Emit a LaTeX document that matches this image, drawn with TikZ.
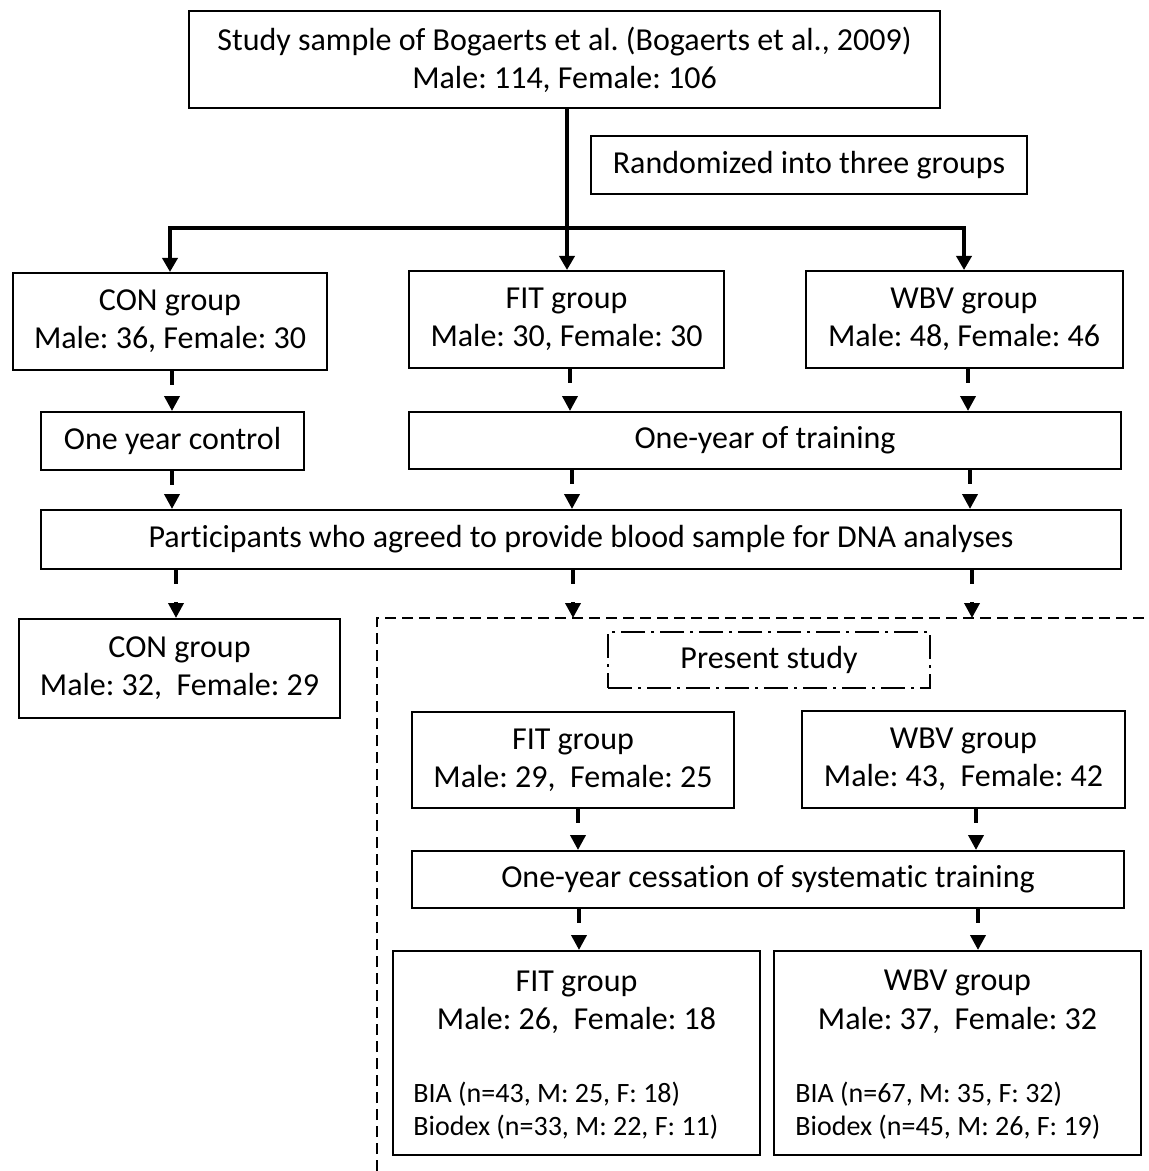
\documentclass[tikz,border=0pt]{standalone}
\usepackage{fontspec}
\setmainfont{Carlito}[Ligatures={NoCommon}]
\usetikzlibrary{arrows.meta}
\frenchspacing
\begin{document}
\begin{tikzpicture}[x=0.5pt,y=-0.5pt,
 box/.style={draw, line width=1pt, inner sep=0pt, align=center, font=\fontsize{16}{19}\selectfont},
 mainarrow/.style={line width=1.8pt, -{Triangle[length=7pt,width=7.5pt]}},
 mainline/.style={line width=1.8pt},
 darrow/.style={line width=1.8pt, dash pattern=on 7pt off 9pt, -{Triangle[length=7.5pt,width=7.5pt]}},
 dashedregion/.style={line width=1pt, dash pattern=on 5.5pt off 3pt},
 dashdotbox/.style={box, dash pattern=on 12pt off 3pt on 1.5pt off 3pt},
 txt/.style={inner sep=0pt, font=\fontsize{16}{19}\selectfont},
 smalltxt/.style={inner sep=0pt, font=\fontsize{14}{17}\selectfont}]
\fill[white] (0,0) rectangle (1148,1171);
\useasboundingbox (0,0) rectangle (1148,1171);

% boxes
\node[box, minimum width=375.5pt, minimum height=48.5pt] (top) at (564.5,59.5)
  {Study sample of Bogaerts et al. (Bogaerts et al., 2009)\\Male: 114, Female: 106};
\node[box, minimum width=218pt, minimum height=29pt] (rand) at (809,165) {Randomized into three groups};
\node[box, minimum width=157pt, minimum height=48.5pt] (con1) at (170,321.5) {CON group\\Male: 36, Female: 30};
\node[box, minimum width=157.5pt, minimum height=48.5pt] (fit1) at (566.5,319.5) {FIT group\\Male: 30, Female: 30};
\node[box, minimum width=158.5pt, minimum height=48.5pt] (wbv1) at (964,319.5) {WBV group\\Male: 48, Female: 46};
\node[box, minimum width=131.5pt, minimum height=29pt] (ctrl) at (172.5,441) {One year control};
\node[box, minimum width=356pt, minimum height=28.5pt] (train) at (765,440.5) {One-year of training};
\node[box, minimum width=540pt, minimum height=29.5pt] (part) at (581,539.5) {Participants who agreed to provide blood sample for DNA analyses};
\node[box, minimum width=160.5pt, minimum height=49.5pt] (con2) at (179.5,668.5) {CON group\\Male: 32,\ \ Female: 29};
\node[dashdotbox, minimum width=161pt, minimum height=28pt] (present) at (769,660) {Present study};
\node[box, minimum width=161pt, minimum height=48pt] (fit2) at (573,760) {FIT group\\Male: 29,\ \ Female: 25};
\node[box, minimum width=161.5pt, minimum height=48.5pt] (wbv2) at (963.5,759.5) {WBV group\\Male: 43,\ \ Female: 42};
\node[box, minimum width=356pt, minimum height=28.5pt] (cess) at (768,879.5) {One-year cessation of systematic training};
\node[box, minimum width=183.5pt, minimum height=102pt] (fit3) at (576.5,1053) {};
\node[box, minimum width=183.5pt, minimum height=102pt] (wbv3) at (957.5,1053) {};

% texts of the last two boxes
\node[txt, anchor=base] (fit3a) at (576.5,991) {FIT group};
\node[txt, anchor=base] (fit3b) at (576.5,1029) {Male: 26,\ \ Female: 18};
\node[smalltxt, anchor=base west] (fit3c) at (413,1102) {BIA (n=43, M: 25, F: 18)};
\node[smalltxt, anchor=base west] (fit3d) at (413,1135) {Biodex (n=33, M: 22, F: 11)};
\node[txt, anchor=base] (wbv3a) at (957.5,990) {WBV group};
\node[txt, anchor=base] (wbv3b) at (957.5,1029) {Male: 37,\ \ Female: 32};
\node[smalltxt, anchor=base west] (wbv3c) at (795,1102) {BIA (n=67, M: 35, F: 32)};
\node[smalltxt, anchor=base west] (wbv3d) at (795,1135) {Biodex (n=45, M: 26, F: 19)};

% dashed region
\coordinate (rtop) at (377,618);
\draw[dashedregion] (377,1171) -- (rtop) -- (1148,618);

% split from top
\coordinate (split) at (567,228);
\draw[mainline] (top.south -| split) -- (split);
\draw[mainarrow] (split) -| (con1.north);
\draw[mainarrow] (split) -- (split |- fit1.north);
\draw[mainarrow] (split) -| (wbv1.north);

% column coordinates
\coordinate (k172) at (172,0);
\coordinate (k176) at (176,0);
\coordinate (k570) at (570,0);
\coordinate (k572) at (572,0);
\coordinate (k573) at (573,0);
\coordinate (k578) at (578,0);
\coordinate (k579) at (579,0);
\coordinate (k968) at (968,0);
\coordinate (k970) at (970,0);
\coordinate (k972) at (972,0);
\coordinate (k976) at (976,0);
\coordinate (k978) at (978,0);

% dashed arrows
\draw[darrow] (con1.south -| k172) -- (ctrl.north -| k172);
\draw[darrow] (fit1.south -| k570) -- (train.north -| k570);
\draw[darrow] (wbv1.south -| k968) -- (train.north -| k968);
\draw[darrow] (ctrl.south -| k172) -- (part.north -| k172);
\draw[darrow] (train.south -| k572) -- (part.north -| k572);
\draw[darrow] (train.south -| k970) -- (part.north -| k970);
\draw[darrow] (part.south -| k176) -- (con2.north -| k176);
\draw[darrow] (part.south -| k573) -- (rtop -| k573);
\draw[darrow] (part.south -| k972) -- (rtop -| k972);
\draw[darrow] (fit2.south -| k578) -- (cess.north -| k578);
\draw[darrow] (wbv2.south -| k976) -- (cess.north -| k976);
\draw[darrow] (cess.south -| k579) -- (fit3.north -| k579);
\draw[darrow] (cess.south -| k978) -- (wbv3.north -| k978);
\end{tikzpicture}
\end{document}
